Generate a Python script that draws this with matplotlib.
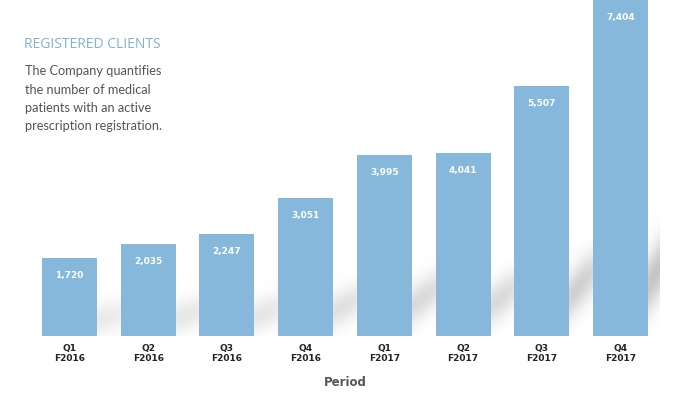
import numpy as np
import matplotlib.pyplot as plt

# Data
periods = ['Q1\nF2016', 'Q2\nF2016', 'Q3\nF2016', 'Q4\nF2016',
           'Q1\nF2017', 'Q2\nF2017', 'Q3\nF2017', 'Q4\nF2017']
clients = [1720, 2035, 2247, 3051, 3995, 4041, 5507, 7404]

bar_color = '#85b8da'
title_color = '#7fb2d6'
text_color = '#555555'

fig = plt.figure(figsize=(6.75, 3.98), dpi=100)
ax = fig.add_axes([30 / 675, 62 / 398, 630 / 675, 336 / 398])

x = np.arange(len(clients))
width = 0.7
ymax = 7404

# soft grey shadows behind the bars, built as a blurred field
px_x, px_y = 630 / 8, 336 / ymax
gx = np.linspace(-0.5, 7.5, 630)
gy = np.linspace(0, ymax, 336)
GX, GY = np.meshgrid(gx * px_x, gy * px_y)
field = np.zeros_like(GX)
for xi, h in zip(x, clients):
    p0 = np.array([xi * px_x + 5, 8.0])
    p1 = np.array([xi * px_x + 65, 0.34 * h * px_y])
    d = p1 - p0
    t = ((GX - p0[0]) * d[0] + (GY - p0[1]) * d[1]) / (d @ d)
    tc = np.clip(t, 0, 1)
    dist = np.hypot(GX - (p0[0] + tc * d[0]), GY - (p0[1] + tc * d[1]))
    taper = np.sin(np.pi * np.clip(t, 0, 1)) ** 0.5
    amp = 0.5 * (h / ymax) ** 0.7
    field = np.maximum(field, amp * taper * np.exp(-(dist / 15) ** 2))
rgba = np.zeros(field.shape + (4,))
rgba[..., :3] = 0.55
rgba[..., 3] = field
ax.imshow(rgba, extent=(-0.5, 7.5, 0, ymax), origin='lower', aspect='auto',
          zorder=1, interpolation='bilinear')

ax.bar(x, clients, width=width, color=bar_color, zorder=2)

for xi, h in zip(x, clients):
    ax.text(xi, h - 290, f'{h:,}', ha='center', va='top', color='white',
            fontsize=6.5, fontweight='bold', family='DejaVu Sans', zorder=3)

ax.set_xlim(-0.5, 7.5)
ax.set_ylim(0, ymax)
ax.set_xticks(x)
ax.set_xticklabels(periods, fontsize=6.5, color='#222222', fontweight='bold',
                   family='DejaVu Sans', linespacing=1.15)
ax.tick_params(axis='x', length=0, pad=6)
ax.set_yticks([])
for sp in ax.spines.values():
    sp.set_visible(False)

ax.set_xlabel('Period', fontsize=8.5, fontweight='bold', color=text_color,
              labelpad=9, family='DejaVu Sans')

fig.text(24 / 675, 1 - 45 / 398, 'REGISTERED CLIENTS', color=title_color,
         fontsize=10, family='Open Sans', va='center')
desc = ['The Company quantifies', 'the number of medical',
        'patients with an active', 'prescription registration.']
for i, line in enumerate(desc):
    fig.text(25 / 675, 1 - (71 + 18.5 * i) / 398, line, color=text_color,
             fontsize=9.2, family='Lato', va='center')

fig.savefig('out.png', dpi=100)
